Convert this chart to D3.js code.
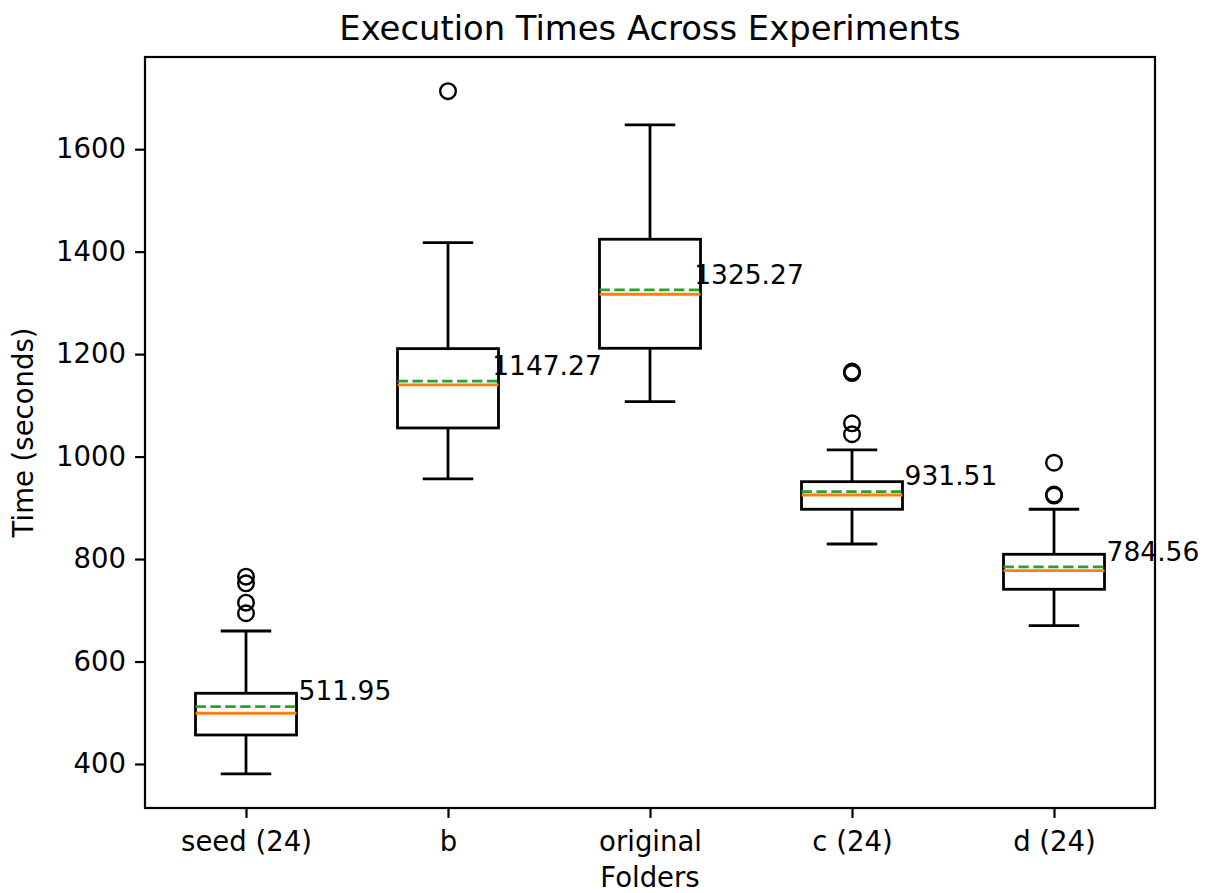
<!DOCTYPE html>
<html>
<head>
<meta charset="utf-8">
<script src="https://cdn.jsdelivr.net/npm/d3@7"></script>
<style>
  html, body { margin: 0; padding: 0; background: #fff; }
  text { font-family: "DejaVu Sans", sans-serif; fill: #000; }
</style>
</head>
<body>
<svg id="chart" width="1212" height="893"></svg>
<script>
// ---- Data ----
const categories = ["seed (24)", "b", "original", "c (24)", "d (24)"];
const whiskerLow  = [380.7, 956.3, 1107.2, 829.4, 670.0];
const q1          = [456.6, 1055.9, 1211.4, 897.2, 741.0];
const medians     = [499.0, 1139.8, 1316.8, 925.0, 777.3];
const q3          = [538.0, 1210.7, 1424.2, 951.0, 809.3];
const whiskerHigh = [659.6, 1417.6, 1647.3, 1013.0, 897.2];
const means       = [511.95, 1147.27, 1325.27, 931.51, 784.56];
const outliers    = [
  [765.6, 752.7, 714.9, 694.2],
  [1713.3],
  [],
  [1166.0, 1163.0, 1065.0, 1043.6],
  [988.0, 926.0, 924.0]
];
const yTicks = [400, 600, 800, 1000, 1200, 1400, 1600];

// ---- Layout ----
const m = { left: 145, right: 1155, top: 57, bottom: 808 };
const svg = d3.select("#chart");

const allVals = whiskerLow.concat(whiskerHigh, outliers.flat());
const lo = d3.min(allVals), hi = d3.max(allVals);
const pad = (hi - lo) * 0.05;

const x = d3.scaleLinear().domain([0.5, categories.length + 0.5]).range([m.left, m.right]);
const y = d3.scaleLinear().domain([lo - pad, hi + pad]).range([m.bottom, m.top]);

const LW = 2.8;
const boxW = 0.5, capW = 0.25;
const tickFont = 27.5;
const annFont = 26.5;

const g = svg.append("g");
categories.forEach((c, i) => {
  const p = i + 1;
  // whiskers
  g.append("line").attr("x1", x(p)).attr("x2", x(p)).attr("y1", y(q1[i])).attr("y2", y(whiskerLow[i]))
    .attr("stroke", "#000").attr("stroke-width", LW);
  g.append("line").attr("x1", x(p)).attr("x2", x(p)).attr("y1", y(q3[i])).attr("y2", y(whiskerHigh[i]))
    .attr("stroke", "#000").attr("stroke-width", LW);
  // caps
  [whiskerLow[i], whiskerHigh[i]].forEach(v => {
    g.append("line").attr("x1", x(p - capW / 2)).attr("x2", x(p + capW / 2)).attr("y1", y(v)).attr("y2", y(v))
      .attr("stroke", "#000").attr("stroke-width", LW);
  });
  // box
  g.append("rect").attr("x", x(p - boxW / 2)).attr("y", y(q3[i]))
    .attr("width", x(p + boxW / 2) - x(p - boxW / 2)).attr("height", y(q1[i]) - y(q3[i]))
    .attr("fill", "none").attr("stroke", "#000").attr("stroke-width", LW);
  // median
  g.append("line").attr("x1", x(p - boxW / 2)).attr("x2", x(p + boxW / 2)).attr("y1", y(medians[i])).attr("y2", y(medians[i]))
    .attr("stroke", "#ff7f0e").attr("stroke-width", LW);
  // mean
  g.append("line").attr("x1", x(p - boxW / 2)).attr("x2", x(p + boxW / 2)).attr("y1", y(means[i])).attr("y2", y(means[i]))
    .attr("stroke", "#2ca02c").attr("stroke-width", LW).attr("stroke-dasharray", "10.4,4.5");
  // outliers
  outliers[i].forEach(v => {
    g.append("circle").attr("cx", x(p)).attr("cy", y(v)).attr("r", 7.8)
      .attr("fill", "none").attr("stroke", "#000").attr("stroke-width", 2.4);
  });
  // mean annotation
  g.append("text").attr("x", x(p + 0.49)).attr("y", y(means[i]) - 0.236 * annFont)
    .attr("text-anchor", "middle").attr("font-size", annFont)
    .text(means[i].toFixed(2));
});

// axes
const xAxis = d3.axisBottom(x).tickValues(categories.map((c, i) => i + 1))
  .tickFormat((d) => categories[d - 1]).tickSize(9.9).tickPadding(8);
const yAxis = d3.axisLeft(y).tickValues(yTicks).tickFormat(d3.format("d")).tickSize(9.9).tickPadding(9);

const gx = svg.append("g").attr("transform", `translate(0,${m.bottom})`).call(xAxis);
const gy = svg.append("g").attr("transform", `translate(${m.left},0)`).call(yAxis);
[gx, gy].forEach(a => {
  a.select(".domain").remove();
  a.selectAll(".tick line").attr("stroke", "#000").attr("stroke-width", 2.2);
  a.selectAll(".tick text").attr("font-size", tickFont).attr("font-family", "DejaVu Sans").attr("fill", "#000");
});
gx.selectAll(".tick text").attr("dy", "0.93em");

// spines
svg.append("rect").attr("x", m.left).attr("y", m.top).attr("width", m.right - m.left).attr("height", m.bottom - m.top)
  .attr("fill", "none").attr("stroke", "#000").attr("stroke-width", 2.2);

// titles
svg.append("text").attr("x", (m.left + m.right) / 2).attr("y", 40).attr("text-anchor", "middle")
  .attr("font-size", 33.8).text("Execution Times Across Experiments");
svg.append("text").attr("x", (m.left + m.right) / 2).attr("y", 887).attr("text-anchor", "middle")
  .attr("font-size", tickFont).text("Folders");
svg.append("text").attr("transform", `translate(33,${(m.top + m.bottom) / 2}) rotate(-90)`).attr("text-anchor", "middle")
  .attr("font-size", tickFont).text("Time (seconds)");
</script>
</body>
</html>
